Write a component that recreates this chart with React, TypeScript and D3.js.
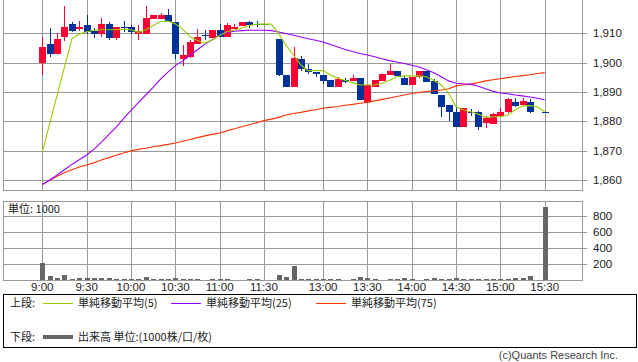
import * as d3 from "d3";

// 5-minute slots, 9:00 (slot 0) .. 15:30 (slot 68); slot 31 = lunch gap, slot 67 = closing auction
const timeLabels = ["9:00", "9:30", "10:00", "10:30", "11:00", "11:30", "13:00", "13:30", "14:00", "14:30", "15:00", "15:30"];
const timeSlots = [0, 6, 12, 18, 24, 30, 38, 44, 50, 56, 62, 68];

const priceTicks = [1860, 1870, 1880, 1890, 1900, 1910];
const volumeTicks = [200, 400, 600, 800];

const opens = [1900.0, 1906.4, 1903.1, 1908.8, 1913.2, 1911.5, 1912.8, 1910.7, 1909.9, 1913.2, 1908.5, 1912.2, 1912.0, 1909.9, 1909.9, 1915.0, 1915.0, 1916.2, 1913.8, 1901.4, 1902.0, 1906.5, 1909.5, 1908.5, 1911.0, 1908.8, 1911.5, 1912.6, 1913.8, 1913.1, 1913.1, null, 1908.2, 1895.8, 1891.8, 1901.3, 1898.0, 1896.9, 1895.9, 1894.1, 1891.8, 1894.1, 1893.7, 1894.9, 1886.5, 1891.8, 1893.9, 1895.9, 1897.2, 1894.9, 1892.5, 1895.2, 1897.2, 1893.8, 1889.0, 1885.6, 1883.3, 1878.2, 1883.3, 1883.3, 1879.4, 1879.0, 1881.9, 1883.3, 1886.7, 1885.6, 1886.7, null, 1883.1];
const closes = [1905.3, 1903.0, 1908.1, 1912.1, 1910.9, 1912.1, 1910.5, 1909.9, 1913.2, 1908.5, 1912.1, 1911.9, 1910.5, 1910.9, 1915.2, 1916.2, 1916.2, 1913.8, 1903.1, 1902.6, 1907.0, 1908.7, 1909.3, 1911.1, 1908.8, 1912.7, 1912.1, 1913.8, 1912.9, 1912.9, 1912.7, null, 1895.8, 1891.8, 1901.5, 1898.0, 1896.7, 1896.3, 1893.9, 1891.8, 1894.6, 1893.5, 1894.9, 1887.3, 1892.4, 1894.1, 1896.3, 1897.2, 1895.6, 1892.5, 1895.2, 1897.2, 1893.5, 1889.5, 1885.0, 1883.3, 1878.2, 1884.5, 1883.0, 1878.2, 1881.1, 1882.4, 1883.3, 1887.7, 1885.4, 1887.1, 1883.3, null, 1883.1];
const highs = [1908.8, 1911.8, 1910.0, 1919.3, 1913.8, 1914.2, 1916.2, 1911.7, 1915.2, 1913.7, 1912.1, 1914.2, 1912.9, 1912.7, 1919.3, 1916.2, 1917.0, 1918.3, 1913.8, 1906.0, 1907.6, 1911.4, 1911.2, 1911.1, 1913.2, 1913.4, 1913.2, 1913.8, 1914.3, 1914.2, 1913.1, null, 1908.2, 1895.8, 1905.4, 1902.4, 1899.6, 1896.9, 1895.9, 1894.1, 1895.0, 1894.7, 1895.9, 1894.9, 1892.4, 1894.1, 1896.3, 1899.5, 1897.2, 1895.3, 1895.2, 1897.2, 1897.2, 1894.5, 1889.0, 1885.6, 1885.0, 1884.5, 1884.2, 1883.7, 1882.0, 1882.8, 1884.5, 1887.9, 1887.9, 1887.9, 1887.5, null, 1883.1];
const lows = [1895.8, 1902.0, 1903.1, 1907.4, 1910.3, 1910.9, 1909.9, 1908.4, 1908.8, 1907.8, 1907.8, 1910.5, 1909.7, 1907.8, 1909.9, 1915.0, 1915.0, 1913.8, 1901.4, 1899.0, 1901.6, 1906.5, 1907.8, 1908.5, 1908.8, 1908.8, 1911.5, 1912.6, 1911.8, 1912.0, 1912.7, null, 1895.5, 1891.8, 1891.8, 1897.3, 1896.1, 1895.0, 1892.9, 1891.8, 1891.8, 1893.0, 1893.7, 1887.3, 1886.5, 1891.8, 1893.9, 1895.9, 1895.6, 1892.5, 1892.5, 1894.7, 1893.5, 1889.5, 1881.4, 1880.3, 1878.2, 1878.2, 1882.0, 1877.2, 1877.9, 1879.0, 1881.9, 1882.8, 1885.0, 1885.6, 1883.0, null, 1883.1];

const volumes = [216, 50, 25, 62, 12, 25, 25, 25, 25, 25, 12, 12, 12, 12, 37, 12, 12, 12, 25, 12, 12, 12, 6, 12, 12, 12, 6, 6, 12, 12, 6, null, 62, 37, 175, 12, 12, 12, 12, 12, 12, 6, 12, 37, 25, 12, 6, 12, 12, 25, 12, 6, 12, 25, 12, 12, 25, 12, 12, 12, 12, 12, 12, 12, 25, 25, 50, null, 909];

const ma5 = [1869.7, null, null, null, 1908.1, 1909.7, 1910.5, 1911.0, 1911.2, 1911.2, 1911.2, 1911.4, 1911.2, 1910.3, 1911.1, 1912.6, 1914.0, 1914.1, 1913.2, 1911.4, 1908.8, 1907.5, 1906.6, 1907.8, 1909.2, 1910.5, 1911.1, 1911.8, 1912.6, 1913.1, 1913.1, 1913.1, 1909.8, 1905.8, 1902.6, 1899.2, 1897.3, 1897.3, 1897.3, 1895.8, 1894.7, 1893.9, 1893.2, 1892.4, 1892.4, 1892.5, 1893.0, 1894.0, 1895.2, 1895.5, 1895.5, 1895.5, 1895.2, 1893.9, 1892.4, 1889.6, 1885.0, 1883.9, 1883.3, 1882.5, 1881.4, 1881.6, 1881.6, 1882.2, 1883.9, 1885.3, 1885.4, 1885.0, 1883.3];
const ma25 = [1858.6, 1860.1, 1861.8, 1863.6, 1865.4, 1867.0, 1868.6, 1870.6, 1873.0, 1875.5, 1878.1, 1881.0, 1883.8, 1886.4, 1889.0, 1891.6, 1894.4, 1896.8, 1899.0, 1900.6, 1902.5, 1904.4, 1906.3, 1907.8, 1909.4, 1910.3, 1910.7, 1910.9, 1911.0, 1911.0, 1911.0, 1910.9, 1910.4, 1909.9, 1909.3, 1908.7, 1908.1, 1907.6, 1907.0, 1906.2, 1905.3, 1904.5, 1903.8, 1903.1, 1902.6, 1902.0, 1901.3, 1900.7, 1900.2, 1899.7, 1899.1, 1898.5, 1897.6, 1896.6, 1895.2, 1893.8, 1893.0, 1892.8, 1892.7, 1892.0, 1891.1, 1890.3, 1889.7, 1889.4, 1889.0, 1888.7, 1888.3, 1887.9, 1887.4];
const ma75 = [1858.6, 1860.0, 1861.4, 1862.6, 1863.6, 1864.5, 1865.2, 1866.0, 1866.9, 1867.7, 1868.5, 1869.3, 1870.0, 1870.5, 1870.9, 1871.4, 1871.8, 1872.2, 1872.7, 1873.3, 1873.9, 1874.5, 1875.1, 1875.6, 1876.1, 1876.8, 1877.5, 1878.2, 1878.9, 1879.6, 1880.3, 1880.8, 1881.4, 1882.2, 1882.7, 1883.1, 1883.6, 1884.0, 1884.5, 1884.8, 1885.1, 1885.5, 1885.8, 1886.2, 1886.5, 1887.0, 1887.5, 1888.0, 1888.5, 1889.0, 1889.5, 1889.9, 1890.2, 1890.4, 1890.7, 1891.1, 1892.1, 1892.5, 1892.7, 1893.2, 1893.8, 1894.2, 1894.5, 1894.9, 1895.3, 1895.6, 1895.9, 1896.3, 1896.6];

const legendItems = [
  { label: "単純移動平均(5)", color: "#99cc00" },
  { label: "単純移動平均(25)", color: "#9900ff" },
  { label: "単純移動平均(75)", color: "#ff3300" },
];

const UP = "#ff0033";
const DOWN = "#003399";
const GRID = "#999";
const FONT = "'Liberation Sans', Arial, sans-serif";
const JP = "'Noto Sans CJK JP', sans-serif";

const App = () => {
  const left = 3;
  const right = 582;
  const x = d3.scaleLinear().domain([0, 68]).range([42.3, 544.7]);
  const y = d3.scaleLinear().domain([1856.7, 1921.3]).range([190, 0]);
  const vy = d3.scaleLinear().domain([0, 1000]).range([280, 200]);

  const maPath = (vals: (number | null)[]) => {
    const pts = vals.map((v, i) => [i, v] as [number, number | null]).filter(d => d[1] != null) as [number, number][];
    return d3.line<[number, number]>().x(d => x(d[0])).y(d => y(d[1]))(pts) ?? "";
  };

  const candles = opens.map((o, i) => ({ i, o, c: closes[i], h: highs[i], l: lows[i] })).filter(d => d.o != null);

  return (
    <svg width={638} height={362} style={{ position: "absolute", left: 0, top: 0, background: "#fff" }}>
      {/* price panel */}
      <g shapeRendering="crispEdges">
        {priceTicks.map(t => (
          <line key={t} x1={left} x2={right + 5} y1={Math.round(y(t)) + 0.5} y2={Math.round(y(t)) + 0.5} stroke={GRID} />
        ))}
        {timeSlots.map(s => (
          <line key={s} x1={Math.round(x(s)) + 0.5} x2={Math.round(x(s)) + 0.5} y1={0} y2={190} stroke={GRID} />
        ))}
        <rect x={left + 0.5} y={-1} width={right - left} height={191.5} fill="none" stroke={GRID} />
      </g>
      {priceTicks.map(t => (
        <text key={t} x={593} y={y(t)} dy="0.35em" fontSize={11.5} fontFamily={FONT} fill="#222">{d3.format(",")(t)}</text>
      ))}

      {/* candles */}
      <g shapeRendering="crispEdges">
        {candles.map(d => {
          const cx = Math.round(x(d.i));
          const col = (d.c as number) > (d.o as number) ? UP : DOWN;
          const top = y(Math.max(d.o as number, d.c as number));
          const bot = y(Math.min(d.o as number, d.c as number));
          return (
            <g key={d.i}>
              <line x1={cx + 0.5} x2={cx + 0.5} y1={y(d.h as number)} y2={y(d.l as number)} stroke={col} />
              <rect x={cx - 3} y={top} width={7} height={Math.max(1, bot - top)} fill={col} />
            </g>
          );
        })}
      </g>

      {/* moving averages */}
      <path d={maPath(ma75)} fill="none" stroke="#ff3300" strokeWidth={1.1} />
      <path d={maPath(ma25)} fill="none" stroke="#9900ff" strokeWidth={1.1} />
      <path d={maPath(ma5)} fill="none" stroke="#99cc00" strokeWidth={1.1} />

      {/* volume panel */}
      <g shapeRendering="crispEdges">
        {volumeTicks.map(t => (
          <line key={t} x1={left} x2={right + 5} y1={Math.round(vy(t)) + 0.5} y2={Math.round(vy(t)) + 0.5} stroke={GRID} />
        ))}
        {timeSlots.map(s => (
          <line key={s} x1={Math.round(x(s)) + 0.5} x2={Math.round(x(s)) + 0.5} y1={201} y2={280} stroke={GRID} />
        ))}
        {volumes.map((v, i) =>
          v == null ? null : (
            <rect key={i} x={Math.round(x(i)) - 2} y={vy(v)} width={5} height={280 - vy(v)} fill="#666" />
          )
        )}
        <rect x={left + 0.5} y={201.5} width={right - left} height={79} fill="none" stroke={GRID} />
      </g>
      <text x={8} y={213} fontSize={11} fontFamily={JP} fill="#222">単位: 1000</text>
      {volumeTicks.map(t => (
        <text key={t} x={593} y={vy(t)} dy="0.35em" fontSize={11.5} fontFamily={FONT} fill="#222">{t}</text>
      ))}

      {/* time axis */}
      {timeLabels.map((lab, k) => (
        <text key={lab} x={x(timeSlots[k])} y={291} textAnchor="middle" fontSize={11.5} fontFamily={FONT} fill="#222">{lab}</text>
      ))}

      {/* legend */}
      <rect x={3.5} y={294.5} width={633} height={53} fill="none" stroke="#000" shapeRendering="crispEdges" />
      <text x={10} y={307} fontSize={11} fontFamily={JP} fill="#222">上段:</text>
      {legendItems.map((it, k) => {
        const ox = [43, 171, 316][k];
        return (
          <g key={it.label}>
            <line x1={ox} x2={ox + 30} y1={303.5} y2={303.5} stroke={it.color} shapeRendering="crispEdges" />
            <text x={ox + 35} y={307} fontSize={11} fontFamily={JP} fill="#222">{it.label}</text>
          </g>
        );
      })}
      <text x={10} y={341} fontSize={11} fontFamily={JP} fill="#222">下段:</text>
      <line x1={43} x2={73} y1={337} y2={337} stroke="#666" strokeWidth={4} />
      <text x={78} y={341} fontSize={11} fontFamily={JP} fill="#222">出来高 単位:(1000株/口/枚)</text>
      <text x={618} y={359} textAnchor="end" fontSize={11} fontFamily={FONT} fill="#444">(c)Quants Research Inc.</text>
    </svg>
  );
};

export default App;
